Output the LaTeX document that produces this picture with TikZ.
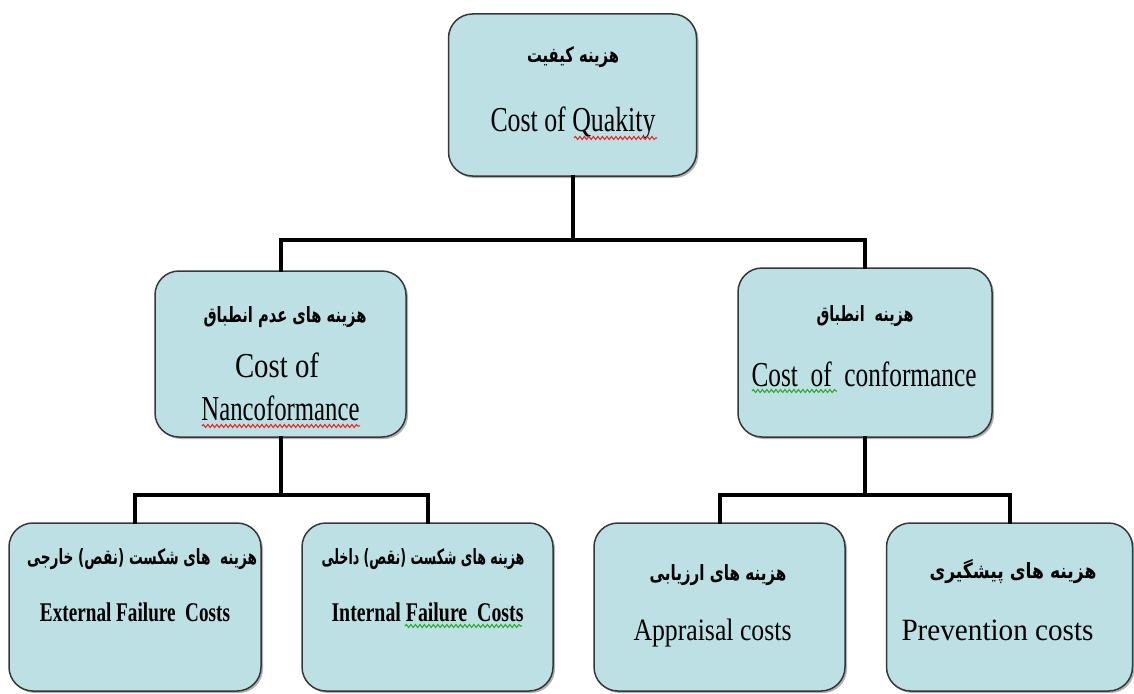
\documentclass[tikz,border=0pt]{standalone}
\usepackage{fontspec}
\usepackage{graphicx}
\setmainfont{Liberation Serif}
\newfontfamily\arabicfont[Script=Arabic]{DejaVu Sans}
\TeXXeTstate=1
\usetikzlibrary{shadows,decorations.pathmorphing}
\definecolor{boxfill}{RGB}{188,224,228}
\definecolor{boxline}{RGB}{55,55,55}
\definecolor{spellred}{RGB}{225,45,45}
\definecolor{spellgreen}{RGB}{50,170,50}
\newcommand\fa[2]{\resizebox{#1}{\height}{\arabicfont\bfseries #2}}
\newcommand\en[2]{\resizebox{#1}{\height}{#2}}
\begin{document}
\begin{tikzpicture}[x=1pt,y=-1pt,
  costbox/.style={draw=boxline, line width=1.5pt, fill=boxfill, rounded corners=24pt,
    inner sep=0pt, drop shadow={shadow xshift=2pt, shadow yshift=-2pt, opacity=0.3, fill=black}},
  fatext/.style={inner sep=0pt, font=\fontsize{21}{24}\selectfont},
  entext/.style={inner sep=0pt, anchor=base, font=\fontsize{35}{40}\selectfont},
  enbold/.style={inner sep=0pt, anchor=base, font=\fontsize{27}{32}\selectfont\bfseries},
  ensmall/.style={inner sep=0pt, anchor=base, font=\fontsize{31}{36}\selectfont},
  link/.style={line width=4pt, line cap=rect},
  wavyred/.style={spellred, line width=1.1pt, decorate, decoration={snake, amplitude=1.5pt, segment length=4.5pt}},
  wavygreen/.style={spellgreen, line width=1.1pt, decorate, decoration={snake, amplitude=1.5pt, segment length=4.5pt}}]
\useasboundingbox (0,0) rectangle (1134,693);

% boxes
\node[costbox, minimum width=248pt, minimum height=162pt] (top) at (572.5,95) {};
\node[costbox, minimum width=251pt, minimum height=166pt] (ml) at (280.5,354) {};
\node[costbox, minimum width=254pt, minimum height=169pt] (mr) at (865,352.5) {};
\node[costbox, minimum width=252pt, minimum height=168pt] (bl) at (135,607) {};
\node[costbox, minimum width=251pt, minimum height=168pt] (bm) at (427.5,607) {};
\node[costbox, minimum width=251pt, minimum height=168pt] (br1) at (719.5,607) {};
\node[costbox, minimum width=246pt, minimum height=168pt] (br2) at (1009.5,607) {};

% junctions
\coordinate (j1) at (572.5,240);
\coordinate (j2) at (280.5,495);
\coordinate (j3) at (865,495);

% connectors
\draw[link] (top.south) -- (j1);
\draw[link] (ml.north) |- (j1) -| (mr.north);
\draw[link] (ml.south) -- (j2);
\draw[link] (bl.north) |- (j2) -| (bm.north);
\draw[link] (mr.south) -- (j3);
\draw[link] (br1.north) |- (j3) -| (br2.north);

% texts
\node[fatext] (tfa) at (573,57) {\fa{92pt}{\beginR هزینه کیفیت\endR}};
\node[entext] (ten) at (573,131) {\en{165pt}{Cost of Quakity}};

\node[fatext] (mlfa) at (285,317) {\fa{163pt}{\beginR هزینه های عدم انطباق\endR}};
\node[entext] (mlen1) at (277,377) {\en{84pt}{Cost of}};
\node[entext] (mlen2) at (280.5,420) {\en{158pt}{Nancoformance}};

\node[fatext] (mrfa) at (865,316) {\fa{97pt}{\beginR هزینه\ \ انطباق\endR}};
\node[entext] (mren) at (864,386) {\en{225pt}{Cost\ \ of\ \ conformance}};

\node[fatext] (blfa) at (142,559) {\fa{230pt}{\beginR هزینه\ \ های شکست (نقص) خارجی\endR}};
\node[enbold] (blen) at (135,621) {\en{190pt}{External Failure\ \ Costs}};

\node[fatext] (bmfa) at (423,559) {\fa{203pt}{\beginR هزینه های شکست (نقص) داخلی\endR}};
\node[enbold] (bmen) at (427.5,621) {\en{192pt}{Internal Failure\ \ Costs}};

\node[fatext] (br1fa) at (718,575) {\fa{137pt}{\beginR هزینه های ارزیابی\endR}};
\node[ensmall] (br1en) at (712.5,640) {\en{158pt}{Appraisal costs}};

\node[fatext] (br2fa) at (1013,572) {\fa{167pt}{\beginR هزینه های پیشگیری\endR}};
\node[ensmall] (br2en) at (997.5,640) {\en{192pt}{Prevention costs}};

% spell-check underlines
\draw[wavyred] (574,138) -- (657,138);
\draw[wavyred] (202,426) -- (360,426);
\draw[wavygreen] (752,391) -- (837,391);
\draw[wavygreen] (405,626) -- (522,626);
\end{tikzpicture}
\end{document}
